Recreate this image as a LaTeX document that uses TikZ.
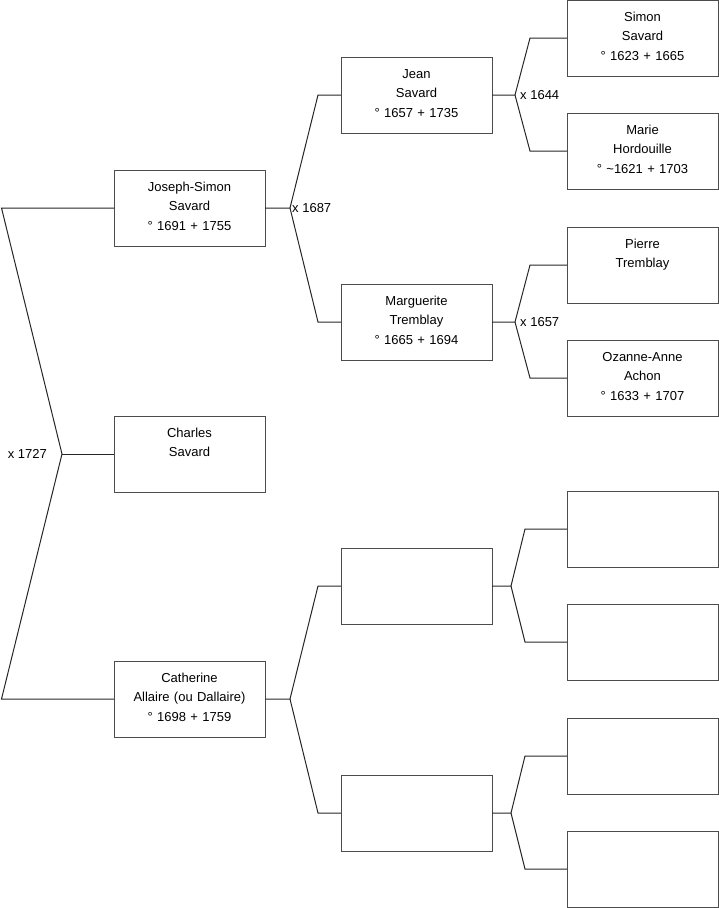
\documentclass[tikz,border=0pt]{standalone}
\usepackage{fontspec}
\setmainfont{Liberation Sans}
\usetikzlibrary{positioning}
\usetikzlibrary{calc}

\begin{document}
\begin{tikzpicture}[
  x=1pt, y=-1pt,
  person/.style={
    draw=black!70,
    line width=1pt,
    text width=151pt,
    align=center,
    inner sep=0pt,
    outer sep=0pt,
    text height=21pt,
    text depth=55pt,
    font=\fontsize{13}{19.5}\selectfont
  },
  link/.style={draw=black!85, line width=1pt},
  wed/.style={font=\fontsize{13}{15}\selectfont, inner sep=2pt}
]
\useasboundingbox (0,0) rectangle (719,908);

% first generation
\node[person] (js) at (189.5,208) {
  Joseph-Simon\\
  Savard\\
  ° 1691 + 1755
};
\node[person, below=170pt of js] (charles) {
  Charles\\
  Savard
};
\node[person, below=169pt of charles] (cath) {
  Catherine\\
  Allaire (ou Dallaire)\\
  ° 1698 + 1759
};

% second generation
\node[person] (jean) at (416.5,95) {
  Jean\\
  Savard\\
  ° 1657 + 1735
};
\node[person, below=151pt of jean] (marg) {
  Marguerite\\
  Tremblay\\
  ° 1665 + 1694
};
\node[person, below=188pt of marg] (cf) {};
\node[person, below=151pt of cf] (cm) {};

% third generation
\node[person] (simon) at (642.5,38) {
  Simon\\
  Savard\\
  ° 1623 + 1665
};
\node[person, below=37pt of simon] (marie) {
  Marie\\
  Hordouille\\
  ° \textasciitilde1621 + 1703
};
\node[person, below=38pt of marie] (pierre) {
  Pierre\\
  Tremblay
};
\node[person, below=37pt of pierre] (ozanne) {
  Ozanne-Anne\\
  Achon\\
  ° 1633 + 1707
};
\node[person, below=75pt of ozanne] (cff) {};
\node[person, below=37pt of cff] (cfm) {};
\node[person, below=38pt of cfm] (cmf) {};
\node[person, below=37pt of cmf] (cmm) {};

% root fork
\coordinate (rtop) at (1.5,0 |- js.west);
\coordinate (rmid) at (62,454);
\coordinate (rbot) at (1.5,0 |- cath.west);
\draw[link] (js.west) -- (rtop) -- (rmid) -- (rbot) -- (cath.west);
\draw[link] (rmid) -- (charles.west);
\node[wed, left=13pt of rmid] (w1727) {x 1727};

% parents of Joseph-Simon
\draw[link] (js.east) -- ++(25,0) coordinate (xjs)
  -- ($(jean.west)+(-23,0)$) -- (jean.west);
\draw[link] (xjs) -- ($(marg.west)+(-23,0)$) -- (marg.west);
\node[wed, right=0pt of xjs] (w1687) {x 1687};

% parents of Jean
\draw[link] (jean.east) -- ++(23,0) coordinate (xjean)
  -- ($(simon.west)+(-37,0)$) -- (simon.west);
\draw[link] (xjean) -- ($(marie.west)+(-37,0)$) -- (marie.west);
\node[wed, right=3pt of xjean] (w1644) {x 1644};

% parents of Marguerite
\draw[link] (marg.east) -- ++(23,0) coordinate (xmarg)
  -- ($(pierre.west)+(-37,0)$) -- (pierre.west);
\draw[link] (xmarg) -- ($(ozanne.west)+(-37,0)$) -- (ozanne.west);
\node[wed, right=3pt of xmarg] (w1657) {x 1657};

% parents of Catherine
\draw[link] (cath.east) -- ++(25,0) coordinate (xcath)
  -- ($(cf.west)+(-23,0)$) -- (cf.west);
\draw[link] (xcath) -- ($(cm.west)+(-23,0)$) -- (cm.west);

\draw[link] (cf.east) -- ++(19,0) coordinate (xcf)
  -- ($(cff.west)+(-42,0)$) -- (cff.west);
\draw[link] (xcf) -- ($(cfm.west)+(-42,0)$) -- (cfm.west);

\draw[link] (cm.east) -- ++(19,0) coordinate (xcm)
  -- ($(cmf.west)+(-42,0)$) -- (cmf.west);
\draw[link] (xcm) -- ($(cmm.west)+(-42,0)$) -- (cmm.west);

\end{tikzpicture}
\end{document}
